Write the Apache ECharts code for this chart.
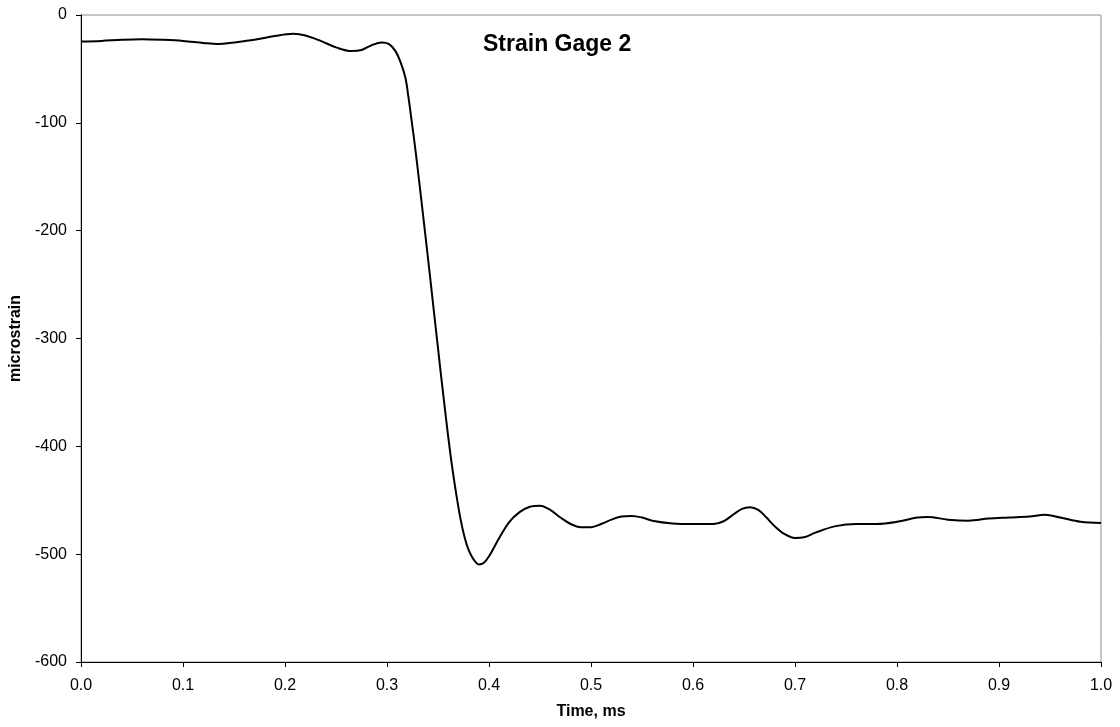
<!DOCTYPE html>
<html>
<head>
<meta charset="utf-8">
<title>Strain Gage 2</title>
<script src="https://cdn.jsdelivr.net/npm/echarts@6/dist/echarts.min.js"></script>
<style>
  html, body { margin: 0; padding: 0; background: #fff; }
  #chart { width: 1120px; height: 727px; }
</style>
</head>
<body>
<div id="chart"></div>
<script>
// Strain gage 2 record: time (ms) and strain (microstrain)
var timeMs = [
  0.000, 0.020, 0.040, 0.060, 0.080, 0.100, 0.120, 0.135, 0.150, 0.170,
  0.190, 0.208, 0.220, 0.235, 0.250, 0.265, 0.275, 0.285, 0.295, 0.302,
  0.308, 0.313, 0.318, 0.321, 0.324, 0.328, 0.332, 0.336, 0.340, 0.344,
  0.348, 0.352, 0.356, 0.360, 0.364, 0.368, 0.372, 0.376, 0.380, 0.385,
  0.390, 0.395, 0.400, 0.410, 0.420, 0.430, 0.440, 0.450, 0.460, 0.470,
  0.480, 0.490, 0.500, 0.510, 0.520, 0.530, 0.540, 0.550, 0.560, 0.580,
  0.600, 0.620, 0.630, 0.640, 0.648, 0.656, 0.664, 0.672, 0.680, 0.690,
  0.700, 0.710, 0.720, 0.740, 0.760, 0.780, 0.800, 0.820, 0.830, 0.850,
  0.870, 0.890, 0.910, 0.930, 0.945, 0.960, 0.980, 1.000
];
var microstrain = [
  -24.5, -24, -23, -22.5, -23, -24, -26, -27, -25.5, -23,
  -19.5, -17.5, -19, -24, -30, -33.5, -32.5, -28, -25.5, -27,
  -33, -43, -58, -76, -97, -126, -158, -191, -224, -258,
  -292, -326, -359, -391, -420, -445, -467, -484, -496, -505,
  -509.5, -508, -502, -485, -470, -461, -456, -455, -459, -466,
  -472, -475, -475, -472, -468, -465, -464.5, -466, -469, -471.5,
  -472, -472, -469.5, -463, -458, -456.5, -459, -466, -474, -481.5,
  -485, -484, -480, -474, -472, -472, -470, -466, -465.5, -468,
  -469, -467, -466, -465, -463.5, -466, -470, -471
];

// Axis settings
var xMin = 0, xMax = 1, xStep = 0.1;
var yMin = -600, yMax = 0, yStep = 100;

var chartTitle = 'Strain Gage 2';
var xName = 'Time, ms';
var yName = 'microstrain';

var seriesData = timeMs.map(function (t, i) { return [t, microstrain[i]]; });

var FONT = '"Liberation Sans", Arial, sans-serif';

var chart = echarts.init(document.getElementById('chart'), null, { renderer: 'canvas' });

chart.setOption({
  backgroundColor: '#ffffff',
  animation: false,
  grid: {
    left: 81, right: 19, top: 15, bottom: 65,
    show: true,
    borderColor: '#8c8c8c',
    borderWidth: 1,
    backgroundColor: 'transparent'
  },
  graphic: [{
    type: 'text',
    left: 483,
    top: 33,
    z: 10,
    style: {
      text: chartTitle,
      font: 'bold 23px ' + FONT,
      fill: '#000'
    }
  }],
  xAxis: {
    type: 'value',
    min: xMin, max: xMax, interval: xStep,
    name: xName,
    nameLocation: 'middle',
    nameGap: 42,
    nameTextStyle: { fontFamily: FONT, fontWeight: 'bold', fontSize: 16, color: '#000' },
    axisLine: { show: true, onZero: false, lineStyle: { color: '#000', width: 1 } },
    axisTick: { show: true, inside: false, length: 5, lineStyle: { color: '#000' } },
    axisLabel: {
      margin: 16,
      fontFamily: FONT, fontSize: 16, color: '#000',
      formatter: function (v) { return v.toFixed(1); }
    },
    splitLine: { show: false }
  },
  yAxis: {
    type: 'value',
    min: yMin, max: yMax, interval: yStep,
    name: yName,
    nameLocation: 'middle',
    nameGap: 54,
    nameRotate: 90,
    nameTextStyle: { fontFamily: FONT, fontWeight: 'bold', fontSize: 16, color: '#000' },
    axisLine: { show: true, onZero: false, lineStyle: { color: '#000', width: 1 } },
    axisTick: { show: true, inside: false, length: 5, lineStyle: { color: '#000' } },
    axisLabel: {
      margin: 14,
      fontFamily: FONT, fontSize: 16, color: '#000'
    },
    splitLine: { show: false }
  },
  series: [{
    type: 'line',
    data: seriesData,
    smooth: 0.35,
    showSymbol: false,
    lineStyle: { color: '#000', width: 2 }
  }]
});
</script>
</body>
</html>
